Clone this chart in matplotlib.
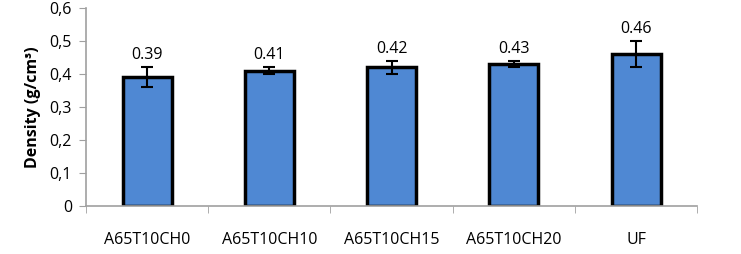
import numpy as np
import matplotlib.pyplot as plt
from matplotlib.ticker import FuncFormatter

# Data
samples = ["A65T10CH0", "A65T10CH10", "A65T10CH15", "A65T10CH20", "UF"]
density = [0.39, 0.41, 0.42, 0.43, 0.46]
errors = [0.03, 0.01, 0.02, 0.01, 0.04]
y_ticks = [0, 0.1, 0.2, 0.3, 0.4, 0.5, 0.6]

plt.rcParams['font.family'] = ['Open Sans', 'DejaVu Sans']

fig = plt.figure(figsize=(7.41, 2.54), dpi=100)
ax = fig.add_axes([0.116, 0.189, 0.825, 0.78])

x = np.arange(len(samples))
ax.bar(x, density, width=0.4, color="#4F88D3", edgecolor="black", linewidth=2.5,
       yerr=errors, capsize=4, error_kw=dict(elinewidth=1.5, capthick=1.5, ecolor="black"))

for xi, v, e in zip(x, density, errors):
    ax.text(xi, v + e + 0.012, f"{v:.2f}", ha="center", va="bottom", fontsize=11.5)

ax.set_xlim(-0.5, len(samples) - 0.5)
ax.set_ylim(0, 0.6)
ax.set_yticks(y_ticks)
ax.yaxis.set_major_formatter(FuncFormatter(lambda v, p: "0" if v == 0 else f"{v:.1f}".replace(".", ",")))
ax.set_xticks(x)
ax.set_xticklabels(samples)
ax.set_xticks(np.arange(len(samples) + 1) - 0.5, minor=True)
ax.tick_params(axis="x", which="major", length=0, pad=19, labelsize=11.5)
ax.tick_params(axis="x", which="minor", length=5, color="#A0A0A0", direction="out")
ax.tick_params(axis="y", length=5, color="#A0A0A0", labelsize=11.5, pad=5)

ax.set_ylabel("Density (g/cm³)", fontweight="bold", fontsize=11.5, labelpad=6)

for side in ["top", "right"]:
    ax.spines[side].set_visible(False)
for side in ["left", "bottom"]:
    ax.spines[side].set_color("#A0A0A0")
    ax.spines[side].set_linewidth(1.2)

fig.savefig("out.png", dpi=100)
